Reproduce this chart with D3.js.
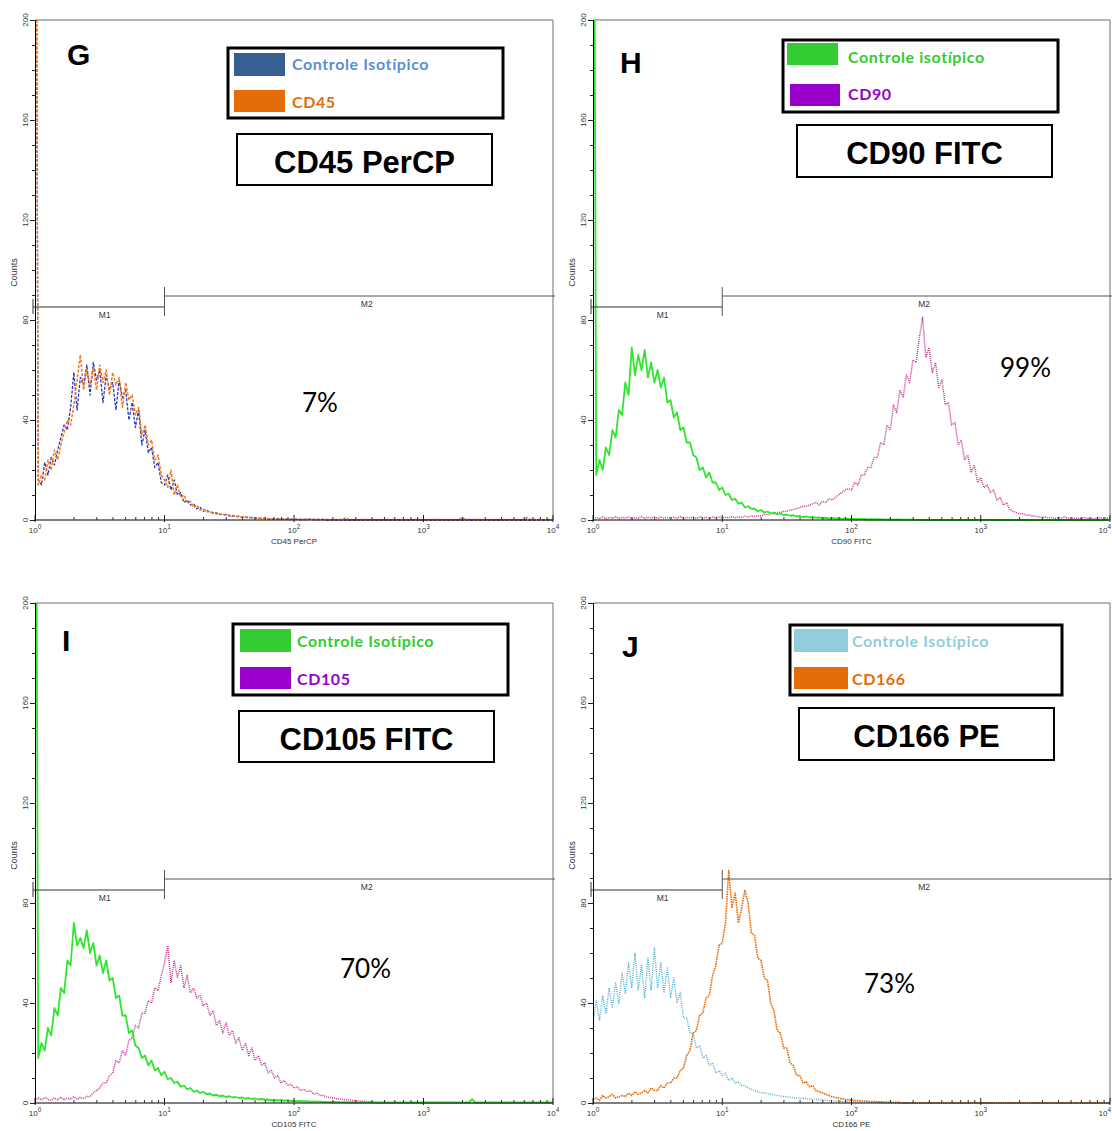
<!DOCTYPE html>
<html><head><meta charset="utf-8">
<script src="https://cdn.jsdelivr.net/npm/d3@7"></script>
<style>body{margin:0;background:#fff}svg{display:block}</style>
</head><body>
<svg id="c" width="1112" height="1131"></svg>
<script>
// ---------- data ----------
const decadeTicks = [1, 10, 100, 1000, 10000];
const decadeExponents = ["0", "1", "2", "3", "4"];
const yTickValues = [0, 40, 80, 120, 160, 200];
const panelLetters = ["G", "H", "I", "J"];
const panelTitles = ["CD45 PerCP", "CD90 FITC", "CD105 FITC", "CD166 PE"];
const xAxisLabels = ["CD45 PerCP", "CD90 FITC", "CD105 FITC", "CD166 PE"];
const controlLabels = ["Controle Isotípico", "Controle isotípico", "Controle Isotípico", "Controle Isotípico"];
const markerLabels = ["CD45", "CD90", "CD105", "CD166"];
const percentPositive = ["7%", "99%", "70%", "73%"];
const gateM1 = [1, 10];
const gateM2 = [10, 10000];
const channelsPerDecade = 40;   // 161 channels spanning 10^0 .. 10^4

const gCtrl = [400,16,14,23,18,25,22,28,33,38,
 36,45,59,44,57,54,62,50,63,56,
 60,47,58,52,55,44,56,49,52,40,
 47,37,44,30,36,27,29,21,23,15,
 14,18,12,16,10,11,7,8,6,6.5,
 4.5,5,3.5,4,3,3,2.5,2.6,2,2.2,
 1.6,1.8,1.3,1.5,1.1,1.2,0.9,1,0.8,0.8,
 0.6,0.7,0.5,0.6,0.4,0.5,0.3,0.4,0.3,0.3,
 0.2,0.3,0.2,0.2,0.2,0.3,0.2,0.2,0.1,0.2];
const gCD45 = [400,14,18,16,24,20,28,24,30,35,
 40,38,46,56,66,52,60,54,61,52,
 62,55,60,50,59,54,57,45,55,48,
 50,42,45,34,38,30,32,24,26,18,
 16,13,20,10,14,9,10,7,7.5,5,
 6,4,4.5,3.2,3.5,2.6,3,2.2,2.4,1.8,
 2,1.4,1.6,1.2,1.3,1,1.1,0.8,0.9,0.7,
 0.7,0.5,0.6,0.4,0.5,0.3,0.4,0.3,0.3,0.2,
 0.2,0.3,0.2,0.2,0.3,0.2,0.2,0.2,0.3,0.2,
 0.2,0.2,0.2,0.2,0.2,0.2,1,0.2,0.2,0.2,
 0.2,0.2,0.2,0.2,0.2,0.2,0.2,0.2,0.2,0.2,
 0.2,0.2,0.2,0.2,0.2,0.2,0.2,0.2,0.2,0.2,
 0.2,0.2,0.2,0.2,0.2,0.2,0.2,0.2,0.2,0.2,
 0.2,0.2,1,0.2,0.2,0.2,0.2,0.2,0.2,0.2,
 0.2,0.2,0.2,0.2,0.2,0.2,0.2,0.2,0.2,0.2,
 0.2,0.2,1,0.2,0.2,0.2,0.2,0.2,0.2,0.2,
 0.2];
const hCtrl = [400,18,24,20,29,26,36,33,44,42,
 55,50,69,58,66,60,68,57,63,55,
 60,53,57,47,48,41,43,36,37,31,
 31,26,25,20,21,17,19,15,15,12,
 13,10,10.5,8,8.5,6.5,7,5,5.5,4.5,
 4.5,3.5,4,3,3.4,2.6,3,2.2,2.6,2,
 2.2,1.7,1.9,1.4,1.6,1.2,1.4,1,1.2,0.9,
 1,0.8,0.9,0.6,0.8,0.5,0.7,0.5,0.6,0.4,
 0.5,0.3,0.4,0.3,0.4,0.2,0.3,0.2,0.3,0.2,
 0.2,0.1,0.2,0.1,0.2,0.1,0.1,0.1,0.1,0.1];
const hCD90 = [0.5,1,0.6,1.2,0.5,1,0.7,1.3,0.6,1,
 0.8,1.2,0.5,1,0.7,1.4,0.6,1.1,0.8,1.2,
 0.6,1.3,0.7,1,0.8,1.2,0.6,1.4,0.7,1,
 0.9,1.2,0.6,1.3,0.8,1.1,0.7,1.2,0.9,1.3,
 0.8,1.1,0.9,1.4,1,1.2,1,1.5,1.2,1.6,
 1.4,1.8,1.6,2.2,2,2.6,2.5,3,3,3.4,
 3.5,4,4.2,4.6,5,5.5,5.5,6,6.5,7,
 6,7.5,7,8.5,8,9,10,11,12,12.5,
 12,15,14,18,18,21,21,25,25,31,
 30,38,36,46,43,52,49,58,55,64,
 63,73,81,65,69,59,63,53,56,46,
 47,38,39,30,32,24,26,19,22,15,
 17,13,14,11,12,8,9,6,7,4,
 3.5,3,2.5,2.5,2,2,1.6,1.5,1.2,1,
 1.2,0.8,1,0.6,1,0.8,1.2,0.6,0.9,0.6,
 0.8,0.5,1,0.6,0.8,0.5,0.7,1,0.6,0.8,
 0.5];
const iCtrl = [400,18,24,21,30,27,38,35,46,44,
 57,55,72,63,66,62,69,60,64,55,
 59,52,57,49,50,42,43,35,35,28,
 29,23,22,18,19,15,17,13,14,11,
 12.5,9.5,10,8,8.5,6.5,7,5.5,6,4.5,
 5,4,4.5,3.5,3.8,3,3.3,2.7,3,2.4,
 2.7,2.2,2.4,2,2.2,1.7,2,1.6,1.8,1.4,
 1.6,1.3,1.4,1.1,1.3,1,1.2,0.9,1.1,0.8,
 0.9,0.7,0.8,0.6,0.7,0.5,0.6,0.5,0.5,0.4,
 0.4,0.3,0.4,0.3,0.3,0.3,0.3,0.2,0.3,0.2,
 0.2,0.2,0.2,0.2,0.2,0.2,0.2,0.2,0.2,0.2,
 0.2,0.2,0.2,0.2,0.2,0.2,0.2,0.2,0.2,0.2,
 0.2,0.2,0.2,0.2,0.2,0.2,0.2,0.2,0.2,0.2,
 0.2,0.2,0.2,0.2,0.2,1.5,0.2,0.2,0.2,0.2,
 0.2,0.2,0.2,0.2,0.2,0.2,0.2,0.2,0.2,0.2,
 0.2,0.2,0.2,0.2,0.2,0.2,0.2,0.2,0.2,0.2,
 0.2];
const iCD105 = [1,2,1.2,2.2,1.5,1,2,1.3,2.4,1.2,
 2,1.5,2.5,1.4,2.2,1.8,2.6,2.5,4,5,
 6,8,8,11,12,17,16,21,19,25,
 26,31,30,36,36,41,40,46,45,51,
 56,63,48,57,50,55,46,51,44,46,
 42,43,39,40,35,37,31,33,28,32,
 27,29,24,26,21,24,19,22,17,19,
 15,16,12,13,10,11,8,9,7,7.5,
 6,6.5,5,5.5,4.5,5,3.5,4,3,3,
 2.5,2.2,2,1.8,1.6,1.4,1.3,1.2,1,0.9,
 0.8,0.7,0.6,0.5,0.4,0.3];
const jCtrl = [32,41,33,43,36,46,38,48,40,52,
 44,56,46,60,45,55,42,58,45,62,
 46,56,44,54,42,50,40,44,34,34,
 28,28,22,23,18,19,15,16,12,13,
 11,12,9,10,8,8.5,7,7,6,5.5,
 5,4.5,4.2,4,3.8,3.5,3.3,3,2.8,2.6,
 2.5,2.3,2.1,2,1.9,1.8,1.7,1.6,1.5,1.4,
 1.3,1.2,1.1,1,0.9,0.8,0.7,0.7,0.6,0.6,
 0.5,0.5,0.4,0.4,0.4,0.3,0.3,0.3,0.2,0.2,
 0.2];
const jCD166 = [1.5,2,1,3,2,2.5,3.5,2,2.5,3,
 2.5,4,3,4.5,3.5,4,5,4,6,5,
 5,7,6,8,8,10,10,13,14,19,
 21,28,29,35,36,42,43,51,55,63,
 64,72,93,78,84,72,78,85,80,68,
 67,58,57,50,49,40,37,29,28,22,
 22,16,15,11,11,8,8.5,6.5,7,5,
 4.5,4,3.5,3,2.5,2.2,2,1.7,1.5,1.3,
 1.2,1,1,0.9,0.8,0.7,0.6,0.6,0.5,0.5,
 0.4,0.4,0.3,0.3,0.3,0.2];

// ---------- layout & style ----------
const nChannels = 4 * channelsPerDecade + 1;
const channelValues = d3.range(nChannels).map(i => Math.pow(10, i / channelsPerDecade));
const pad = arr => channelValues.map((_, i) => i < arr.length ? arr[i] : 0);

const layouts = [
  {x0:35, y0:20, x1:553, y1:520, letter:[67,65], legend:[228,48,275,70], sw1:[234,53,51,23], sw2:[234,90,51,22], tx:292, tb:[70,108], title:[237,134,255,51], pct:[302,412]},
  {x0:593, y0:20, x1:1110, y1:520, letter:[620,73], legend:[783,40,275,72], sw1:[787,43,51,22], sw2:[790,84,50,22], tx:848, tb:[63,100], title:[797,125,255,52], pct:[1000,377]},
  {x0:35, y0:603, x1:553, y1:1103, letter:[62,651], legend:[233,624,275,71], sw1:[240,629,51,23], sw2:[240,667,51,22], tx:297, tb:[647,685], title:[239,711,255,51], pct:[340,978]},
  {x0:593, y0:603, x1:1110, y1:1103, letter:[622,657], legend:[790,625,272,70], sw1:[794,629,54,23], sw2:[794,667,54,22], tx:852, tb:[647,685], title:[799,708,255,52], pct:[864,993]}
];
const seriesData = [[gCtrl, gCD45], [hCtrl, hCD90], [iCtrl, iCD105], [jCtrl, jCD166]];
const lineStyles = [
  {ctrl:{stroke:"#2d35b5", dash:"3,1.5", w:1.3}, mark:{stroke:"#ef7b1f", dash:"3,1.5", w:1.5}, markFirst:false},
  {ctrl:{stroke:"#2fe62f", dash:null, w:1.8}, mark:{stroke:"#c23b94", dash:"1,1", w:1.5}, markFirst:true},
  {ctrl:{stroke:"#2fe62f", dash:null, w:1.8}, mark:{stroke:"#c23b94", dash:"1,1", w:1.5}, markFirst:true},
  {ctrl:{stroke:"#4aaed0", dash:"1,1.2", w:1.4}, mark:{stroke:"#e8700c", dash:"1.6,0.8", w:1.6}, markFirst:false}
];
const legendColors = [
  {sw:["#366092","#E46C0A"], tx:["#5a8fd0","#E46C0A"]},
  {sw:["#33CC33","#9900CC"], tx:["#33CC33","#9900CC"]},
  {sw:["#33CC33","#9900CC"], tx:["#33CC33","#9900CC"]},
  {sw:["#92CDDC","#E46C0A"], tx:["#92CDDC","#E46C0A"]}
];

const svg = d3.select("#c");
const axisFont = "Liberation Sans, Arial, sans-serif";

layouts.forEach((L, p) => {
  const g = svg.append("g");
  const x = d3.scaleLog().domain([1, 10000]).range([L.x0, L.x1]);
  const y = d3.scaleLinear().domain([0, 200]).range([L.y1, L.y0]);

  // frame (top + right)
  g.append("path").attr("d", `M${L.x0},${L.y0}H${L.x1}V${L.y1}`)
    .attr("fill", "none").attr("stroke", "#6e6e6e").attr("stroke-width", 1);

  // clip
  const cid = "clip" + p;
  svg.append("clipPath").attr("id", cid).append("rect")
    .attr("x", L.x0).attr("y", L.y0).attr("width", L.x1 - L.x0 + 1).attr("height", L.y1 - L.y0 + 1);

  // histograms
  const line = d3.line().x((d, i) => x(channelValues[i])).y(d => y(d)).curve(d3.curveLinear);
  const st = lineStyles[p];
  const [ctrl, mark] = seriesData[p];
  const order = st.markFirst ? [[mark, st.mark], [ctrl, st.ctrl]] : [[ctrl, st.ctrl], [mark, st.mark]];
  const hg = g.append("g").attr("clip-path", `url(#${cid})`);
  order.forEach(([arr, s]) => {
    hg.append("path").attr("d", line(pad(arr))).attr("fill", "none")
      .attr("stroke", s.stroke).attr("stroke-width", s.w)
      .attr("stroke-dasharray", s.dash).attr("stroke-linejoin", "round");
  });

  // y axis
  const ya = g.append("g").attr("transform", `translate(${L.x0},0)`)
    .call(d3.axisLeft(y).tickValues(d3.range(0, 201, 10)).tickSize(3).tickFormat(""));
  ya.select(".domain").attr("stroke", "#000");
  ya.selectAll(".tick line").attr("stroke", "#222");
  ya.selectAll(".tick").filter(d => yTickValues.includes(d)).select("line").attr("x2", -5);
  yTickValues.forEach(v => {
    g.append("text").attr("transform", `translate(${L.x0 - 10},${y(v)}) rotate(-90)`)
      .attr("text-anchor", "middle").attr("dy", "0.35em")
      .attr("font-family", axisFont).attr("font-size", 8).attr("fill", "#333").text(v);
  });
  g.append("text").attr("transform", `translate(${L.x0 - 21},${y(99)}) rotate(-90)`)
    .attr("text-anchor", "middle").attr("dy", "0.35em")
    .attr("font-family", axisFont).attr("font-size", 9).attr("fill", "#333").text("Counts");

  // x axis
  g.append("line").attr("x1", L.x0).attr("x2", L.x1).attr("y1", L.y1).attr("y2", L.y1)
    .attr("stroke", "#000");
  const minor = [];
  for (let d = 0; d < 4; d++) for (let k = 2; k <= 9; k++) minor.push(k * Math.pow(10, d));
  g.selectAll(null).data(minor).join("line")
    .attr("x1", d => x(d)).attr("x2", d => x(d)).attr("y1", L.y1).attr("y2", L.y1 - 3)
    .attr("stroke", "#333");
  g.selectAll(null).data(decadeTicks).join("line")
    .attr("x1", d => x(d)).attr("x2", d => x(d)).attr("y1", L.y1 + 2).attr("y2", L.y1 - 5)
    .attr("stroke", "#222");
  decadeTicks.forEach((v, k) => {
    const nearEdge = x(v) > 1100;
    const t = g.append("text").attr("x", nearEdge ? 1111 : x(v)).attr("y", L.y1 + 13)
      .attr("text-anchor", nearEdge ? "end" : "middle").attr("font-family", axisFont).attr("font-size", 8).attr("fill", "#333");
    t.append("tspan").text("10");
    t.append("tspan").attr("dy", -4).attr("font-size", 6.5).text(decadeExponents[k]);
  });
  g.append("text").attr("x", x(100)).attr("y", L.y1 + 24).attr("text-anchor", "middle")
    .attr("font-family", axisFont).attr("font-size", 8).attr("fill", "#333").text(xAxisLabels[p]);

  // gates M1 / M2
  const m1y = y(85.2), m2y = y(89.6);
  const gx0 = x(gateM1[0]) - 2, gx1 = x(gateM1[1]), gx2 = x(gateM2[1]) + 2;
  g.append("path").attr("d", `M${gx0},${y(88.4)}V${y(82.4)}M${gx0},${m1y}H${gx1}`)
    .attr("stroke", "#333").attr("fill", "none");
  g.append("path").attr("d", `M${gx1},${y(93.2)}V${y(81.6)}M${gx1},${m2y}H${gx2}`)
    .attr("stroke", "#555").attr("fill", "none");
  g.append("text").attr("x", (gx0 + gx1) / 2 + 6).attr("y", m1y + 11).attr("text-anchor", "middle")
    .attr("font-family", axisFont).attr("font-size", 8.5).attr("fill", "#333").text("M1");
  g.append("text").attr("x", (gx1 + x(gateM2[1])) / 2 + 8).attr("y", m2y + 11).attr("text-anchor", "middle")
    .attr("font-family", axisFont).attr("font-size", 8.5).attr("fill", "#333").text("M2");

  // panel letter
  g.append("text").attr("x", L.letter[0]).attr("y", L.letter[1])
    .attr("font-family", axisFont).attr("font-weight", "bold").attr("font-size", 30)
    .attr("fill", "#000").text(panelLetters[p]);

  // legend box
  const lc = legendColors[p];
  g.append("rect").attr("x", L.legend[0]).attr("y", L.legend[1]).attr("width", L.legend[2]).attr("height", L.legend[3])
    .attr("fill", "#fff").attr("stroke", "#000").attr("stroke-width", 3);
  [L.sw1, L.sw2].forEach((s, k) => {
    g.append("rect").attr("x", s[0]).attr("y", s[1]).attr("width", s[2]).attr("height", s[3]).attr("fill", lc.sw[k]);
  });
  [controlLabels[p], markerLabels[p]].forEach((t, k) => {
    g.append("text").attr("x", L.tx).attr("y", L.tb[k])
      .attr("font-family", "Lato, sans-serif").attr("font-weight", "bold").attr("font-size", 16)
      .attr("letter-spacing", 0.6).attr("fill", lc.tx[k]).text(t);
  });

  // title box
  g.append("rect").attr("x", L.title[0]).attr("y", L.title[1]).attr("width", L.title[2]).attr("height", L.title[3])
    .attr("fill", "#fff").attr("stroke", "#000").attr("stroke-width", 2);
  g.append("text").attr("x", L.title[0] + L.title[2] / 2).attr("y", L.title[1] + 39)
    .attr("text-anchor", "middle").attr("font-family", axisFont).attr("font-weight", "bold")
    .attr("font-size", 31).attr("fill", "#000").text(panelTitles[p]);

  // percent
  g.append("text").attr("x", L.pct[0]).attr("y", L.pct[1])
    .attr("font-family", "Lato, sans-serif").attr("font-size", 26).attr("fill", "#000").text(percentPositive[p]);
});
</script>
</body></html>
